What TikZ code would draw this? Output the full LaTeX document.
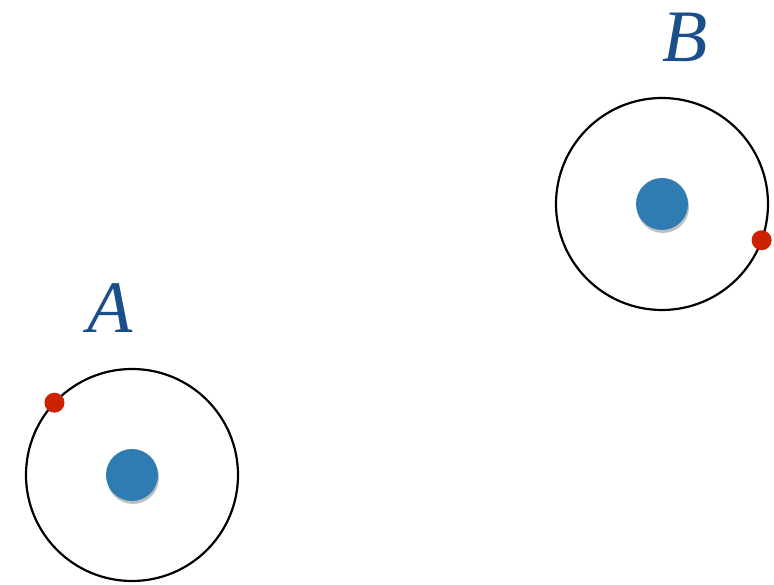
\documentclass[tikz,border=0pt]{standalone}
\usepackage{fontspec}
\setmainfont{Liberation Serif}
\usetikzlibrary{shadows}

\definecolor{nucblue}{HTML}{2F7CB2}
\definecolor{elecred}{HTML}{CC2200}
\definecolor{labelblue}{HTML}{1B4F8C}

\begin{document}
\begin{tikzpicture}[
        x=1pt, y=1pt,
        orbit/.style={draw, circle, line width=2.2pt, minimum size=212pt, inner sep=0pt, outer sep=0pt},
        nucleus/.style={circle, fill=nucblue, minimum size=52pt, inner sep=0pt,
            drop shadow={shadow xshift=1pt, shadow yshift=-3pt, fill=black, opacity=0.25}},
        electron/.style={circle, fill=elecred, minimum size=20pt, inner sep=0pt},
        atomlabel/.style={text=labelblue, inner sep=0pt, font=\fontsize{74}{80}\selectfont\itshape},
    ]
    \useasboundingbox (0,0) rectangle (774,585);
    % atom A, lower left
    \node[orbit] (orbitA) at (132,110) {};
    \node[nucleus] (nucA) at (orbitA.center) {};
    \node[electron] (elA) at (orbitA.137) {};
    \node[atomlabel] (labA) at (110,277) {A};
    % atom B, upper right
    \node[orbit] (orbitB) at (662,381) {};
    \node[nucleus] (nucB) at (orbitB.center) {};
    \node[electron] (elB) at (orbitB.-20) {};
    \node[atomlabel] (labB) at (685,548) {B};
\end{tikzpicture}
\end{document}
